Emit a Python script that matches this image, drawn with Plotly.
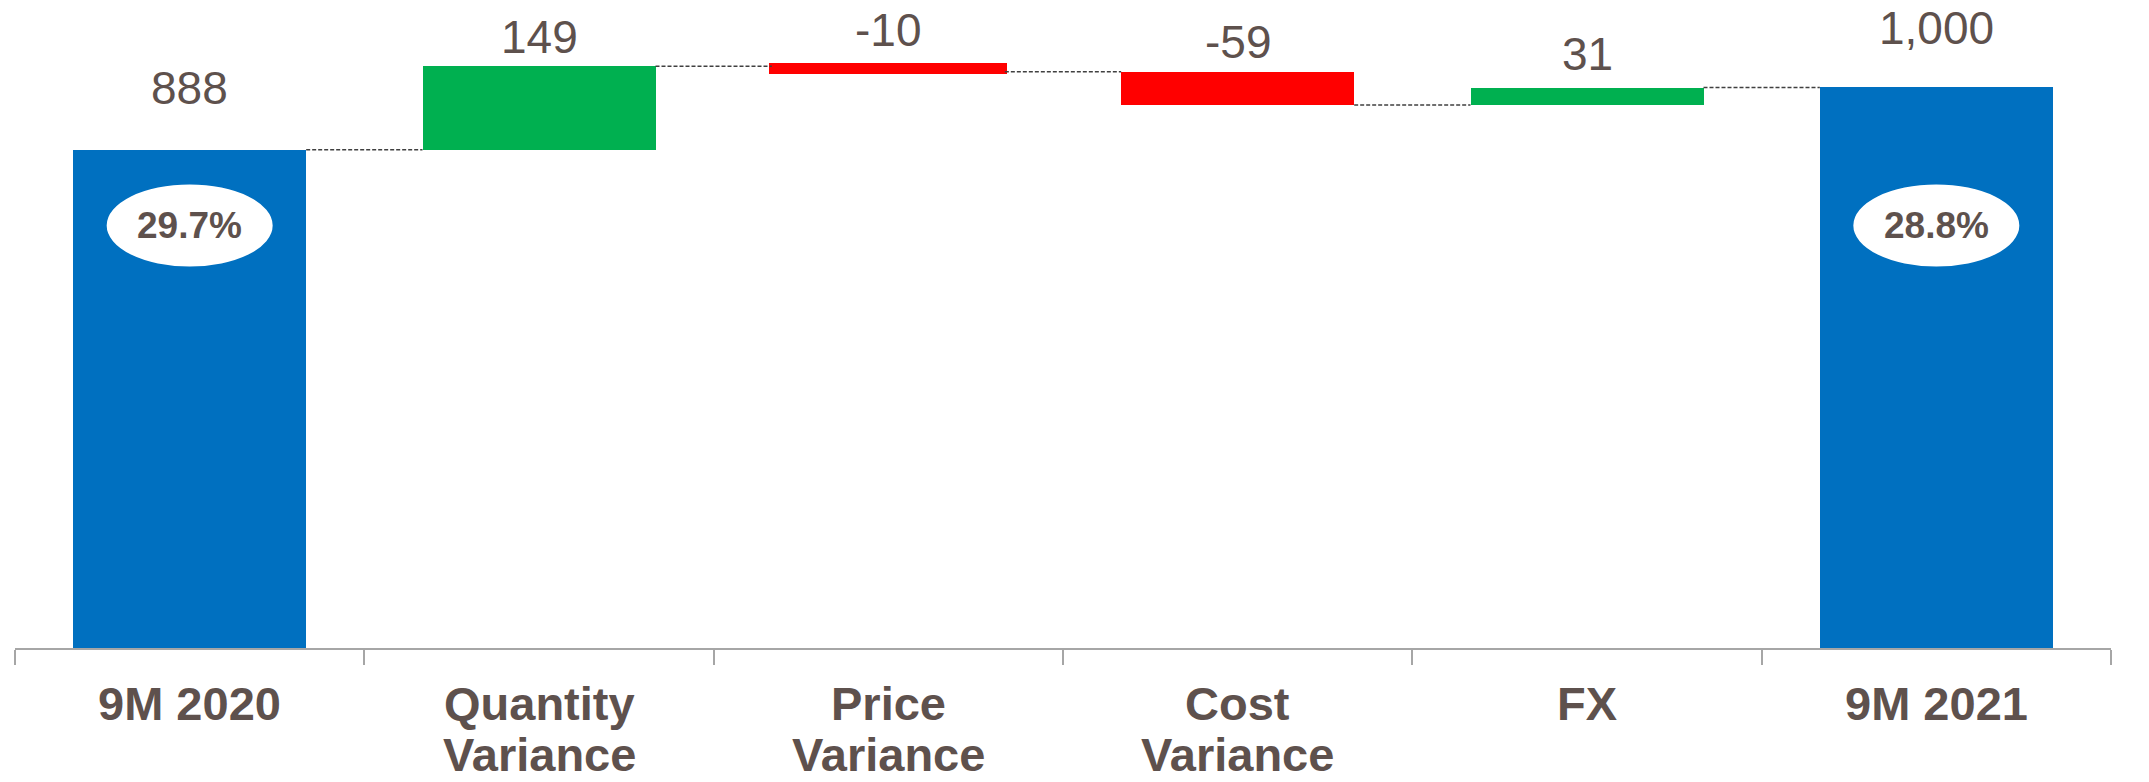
import plotly.graph_objects as go

# ---------------- data ----------------
categories = ["9M 2020", "Quantity Variance", "Price Variance", "Cost Variance", "FX", "9M 2021"]
tick_lines = [["9M 2020"], ["Quantity", "Variance"], ["Price", "Variance"],
              ["Cost", "Variance"], ["FX"], ["9M 2021"]]
values = [888, 149, -10, -59, 31, 1000]
measures = ["absolute", "relative", "relative", "relative", "relative", "absolute"]
margin_labels = ["29.7%", None, None, None, None, "28.8%"]

# ---------------- style ----------------
W, H = 2149, 782
ML, MR, MT, MB = 15, 38, 0, 134
YMAX = 1155
BLUE, GREEN, RED = "#0070C0", "#00B050", "#FF0000"
TEXT = "#5E514D"
AXIS = "#A6A6A6"
FONT = "Arial, Liberation Sans, sans-serif"
BAR_W = 0.667
label_gap_px = [34, 1, 8, 2, 6, 31]     # extra lift of value labels above bar tops
outline_w = [0, 0, 5, 0, 0, 0]          # thin bar drawn with an outline
ELLIPSE_Y = 0.652
CAT_SIZE = 47

# ---------------- derived geometry from data ----------------
bases, heights, colors, tops, ends = [], [], [], [], []
run = 0
for m, v in zip(measures, values):
    if m == "absolute":
        b, h = 0, v
        run = v
        colors.append(BLUE)
    else:
        b = run if v >= 0 else run + v
        h = abs(v)
        run += v
        colors.append(GREEN if v >= 0 else RED)
    bases.append(b)
    heights.append(h)
    tops.append(b + h)
    ends.append(run)

fig = go.Figure()
fig.add_trace(go.Bar(
    x=categories, y=heights, base=bases, width=BAR_W,
    marker=dict(color=colors, line=dict(color=colors, width=outline_w)),
    hoverinfo="skip", showlegend=False,
))

shapes = []
# connectors
for i in range(len(values) - 1):
    shapes.append(dict(type="line", xref="x", yref="y",
                       x0=i + BAR_W / 2, x1=i + 1 - BAR_W / 2, y0=ends[i], y1=ends[i],
                       line=dict(color="#404040", width=1.5, dash="4px,2px"), layer="above"))
annotations = []
# ellipses with margin labels
for i, lab in enumerate(margin_labels):
    if lab is None:
        continue
    shapes.append(dict(type="circle", xref="x", yref="paper",
                       xsizemode="pixel", ysizemode="pixel",
                       xanchor=i, yanchor=ELLIPSE_Y, x0=-83, x1=83, y0=-41, y1=41,
                       fillcolor="white", line=dict(width=0), layer="above"))
    annotations.append(dict(x=i, y=ELLIPSE_Y, xref="x", yref="paper", text=lab,
                            showarrow=False, xanchor="center", yanchor="middle",
                            font=dict(family=FONT, size=37, color=TEXT, weight="bold")))

# value labels
for i, v in enumerate(values):
    annotations.append(dict(x=i, y=tops[i], xref="x", yref="y", text=f"{v:,}",
                            showarrow=False, xanchor="center", yanchor="bottom",
                            yshift=label_gap_px[i],
                            font=dict(family=FONT, size=46, color=TEXT)))

# category labels (first line hangs below the axis, second line sits on the page bottom)
for i, lines in enumerate(tick_lines):
    for k, line in enumerate(lines):
        if k == 0:
            pos = dict(yanchor="top", yshift=-28)
        else:
            pos = dict(yanchor="bottom", yshift=-MB)
        annotations.append(dict(x=i, y=0, xref="x", yref="paper", text=line,
                                showarrow=False, xanchor="center", borderpad=0,
                                font=dict(family=FONT, size=CAT_SIZE, color=TEXT, weight="bold"),
                                **pos))

fig.update_layout(
    width=W, height=H,
    margin=dict(l=ML, r=MR, t=MT, b=MB, pad=0),
    paper_bgcolor="white", plot_bgcolor="white",
    shapes=shapes, annotations=annotations,
    xaxis=dict(type="category", range=[-0.5, len(categories) - 0.5],
               showline=True, linecolor=AXIS, linewidth=2,
               ticks="outside", tickson="boundaries", ticklen=15, tickwidth=2, tickcolor=AXIS,
               showticklabels=False, showgrid=False, zeroline=False, fixedrange=True),
    yaxis=dict(range=[0, YMAX], visible=False, fixedrange=True),
    bargap=0,
)

fig.write_html("out.html", config={"displayModeBar": False},
               post_script="document.body.style.margin='0';document.body.style.overflow='hidden';")
